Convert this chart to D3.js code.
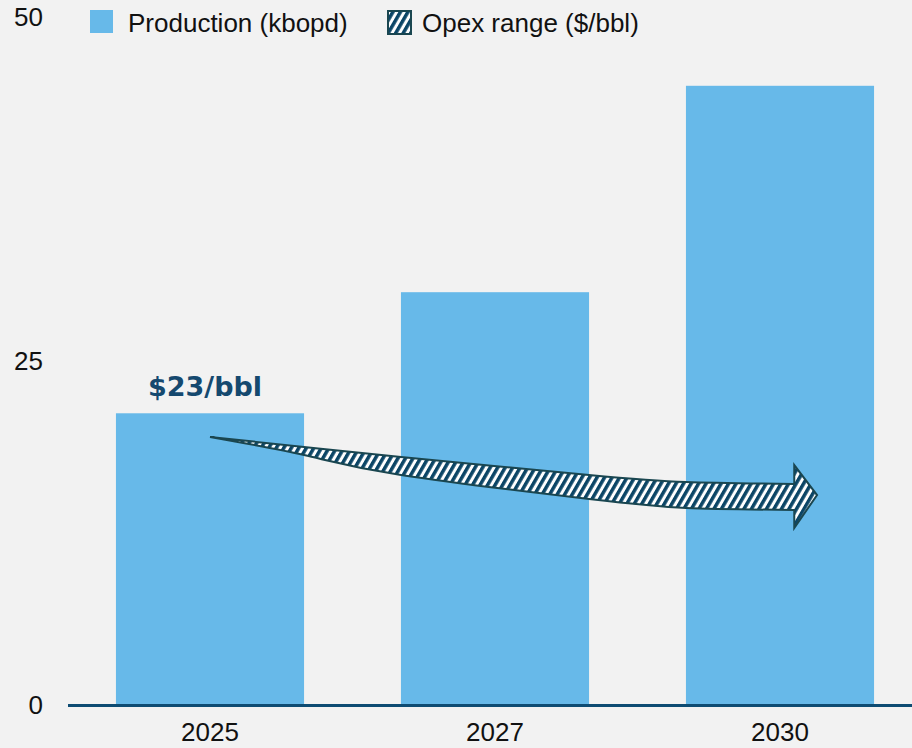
<!DOCTYPE html>
<html>
<head>
<meta charset="utf-8">
<script src="https://cdn.jsdelivr.net/npm/d3@7"></script>
<style>
  html, body { margin: 0; padding: 0; background: #f2f2f2; }
  svg { display: block; font-family: "Liberation Sans", Arial, sans-serif; }
</style>
</head>
<body>
<svg id="chart"></svg>
<script>
// data
const years = ["2025", "2027", "2030"];
const production = [21.2, 30, 45];
const yTicks = [0, 25, 50];
const legendLabels = ["Production (kbopd)", "Opex range ($/bbl)"];
const opexLabel = "$23/bbl";

// opex arrow outline (x in bar-index units, y in chart units)
const arrowX = [0, 0.33, 0.67, 1.33, 1.67, 2.05];
const arrowTop = [19.48, 18.75, 18.02, 16.72, 16.21, 16.06];
const arrowBottom = [19.48, 18.17, 16.72, 14.97, 14.32, 14.17];
const arrowHead = { x: 2.05, tipX: 2.13, top: 17.44, tip: 15.26, bottom: 12.86 };

const width = 912, height = 748;
const barColor = "#67b9e9";
const navy = "#0b4566";
const outline = "#1a4650";

const svg = d3.select("#chart")
  .attr("width", width)
  .attr("height", height);

svg.append("rect")
  .attr("width", width)
  .attr("height", height)
  .attr("fill", "#f2f2f2");

// hatch pattern
const defs = svg.append("defs");
const pat = defs.append("pattern")
  .attr("id", "hatch")
  .attr("patternUnits", "userSpaceOnUse")
  .attr("width", 6.5)
  .attr("height", 6.5)
  .attr("patternTransform", "rotate(30)");
pat.append("rect").attr("width", 6.5).attr("height", 6.5).attr("fill", "#ffffff");
pat.append("rect").attr("width", 3.5).attr("height", 6.5).attr("fill", navy);

// scales
const x = d3.scaleBand()
  .domain(years)
  .range([67.5, 922.5])
  .paddingInner(0.34)
  .paddingOuter(0.17);

const y = d3.scaleLinear()
  .domain([0, 50])
  .range([705, 17]);

// bar-index scale for the arrow
const xi = d3.scaleLinear()
  .domain([0, 2])
  .range([x(years[0]) + x.bandwidth() / 2, x(years[2]) + x.bandwidth() / 2]);

// bars
svg.append("g")
  .selectAll("rect")
  .data(years)
  .enter()
  .append("rect")
  .attr("x", d => x(d))
  .attr("y", (d, i) => y(production[i]))
  .attr("width", x.bandwidth())
  .attr("height", (d, i) => y(0) - y(production[i]))
  .attr("fill", barColor);

// y axis labels
const yAxis = svg.append("g")
  .attr("transform", "translate(43,0)")
  .call(d3.axisLeft(y).tickValues(yTicks).tickSize(0).tickPadding(0));
yAxis.select(".domain").remove();
yAxis.selectAll("text")
  .style("font-size", "26px")
  .style("font-family", "Liberation Sans, Arial, sans-serif")
  .attr("fill", "#111");

// x axis
const xAxis = svg.append("g")
  .attr("transform", "translate(0," + (y(0) + 0.5) + ")")
  .call(d3.axisBottom(x).tickSize(0).tickPadding(17));
xAxis.select(".domain").remove();
xAxis.selectAll("text")
  .style("font-size", "26px")
  .style("font-family", "Liberation Sans, Arial, sans-serif")
  .attr("fill", "#111");

svg.append("line")
  .attr("x1", 68)
  .attr("x2", width)
  .attr("y1", y(0) + 0.5)
  .attr("y2", y(0) + 0.5)
  .attr("stroke", "#0e4c73")
  .attr("stroke-width", 3);

// opex arrow
const edge = d3.line()
  .x(d => xi(d[0]))
  .y(d => y(d[1]))
  .curve(d3.curveNatural);
const topPts = arrowX.map((v, i) => [v, arrowTop[i]]);
const botPts = arrowX.map((v, i) => [v, arrowBottom[i]]).reverse();
const arrowPath = edge(topPts)
  + "L" + xi(arrowHead.x) + "," + y(arrowHead.top)
  + "L" + xi(arrowHead.tipX) + "," + y(arrowHead.tip)
  + "L" + xi(arrowHead.x) + "," + y(arrowHead.bottom)
  + edge(botPts).replace(/^M/, "L")
  + "Z";

svg.append("path")
  .attr("d", arrowPath)
  .attr("fill", "url(#hatch)")
  .attr("stroke", outline)
  .attr("stroke-width", 2)
  .attr("stroke-linejoin", "miter");

// opex label
svg.append("text")
  .attr("x", x(years[0]) + x.bandwidth() / 2 - 5)
  .attr("y", 396)
  .attr("text-anchor", "middle")
  .style("font-family", "DejaVu Sans, sans-serif")
  .style("font-weight", "bold")
  .style("font-size", "27px")
  .attr("fill", "#15496f")
  .text(opexLabel);

// legend
const legend = svg.append("g");
legend.append("rect")
  .attr("x", 90).attr("y", 10)
  .attr("width", 23).attr("height", 23)
  .attr("fill", barColor);
legend.append("text")
  .attr("x", 128).attr("y", 32)
  .style("font-size", "26px")
  .attr("fill", "#111")
  .text(legendLabels[0]);
legend.append("rect")
  .attr("x", 388).attr("y", 11)
  .attr("width", 23).attr("height", 23)
  .attr("fill", "url(#hatch)")
  .attr("stroke", outline)
  .attr("stroke-width", 2);
legend.append("text")
  .attr("x", 422).attr("y", 32)
  .style("font-size", "26px")
  .attr("fill", "#111")
  .text(legendLabels[1]);
</script>
</body>
</html>
